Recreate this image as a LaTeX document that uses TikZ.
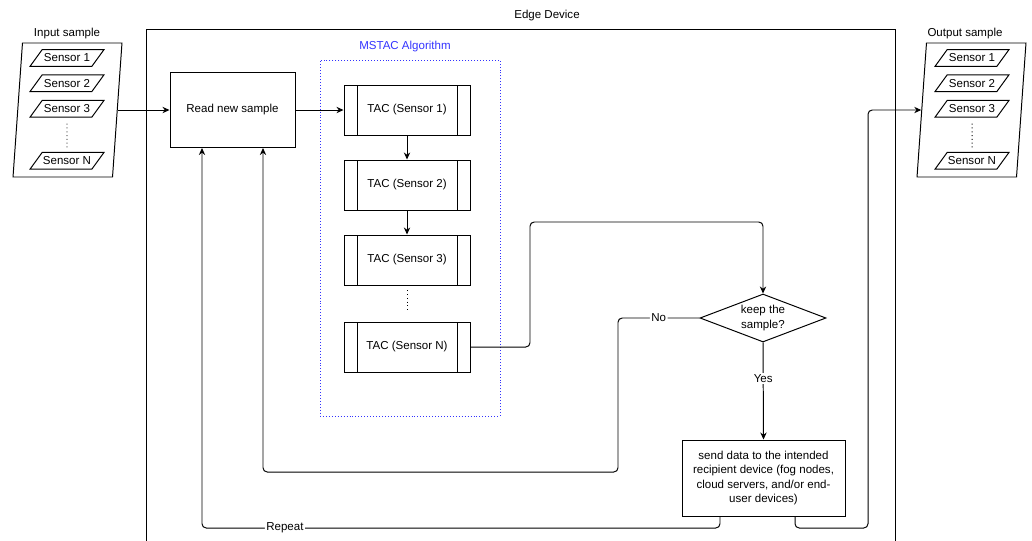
\documentclass[tikz,border=0pt]{standalone}
\usepackage{fontspec}
\setmainfont{Liberation Sans}
\usepackage{xcolor}
\usepackage{tikz}
\usetikzlibrary{arrows.meta, positioning, shapes.geometric}

\begin{document}
\begin{tikzpicture}[
        font=\fontsize{8.2}{10.4}\selectfont,
        line width=0.7pt,
        % Process boxes
        box/.style={draw, align=center, inner sep=2pt},
        % TAC boxes with side bars
        tacbox/.style={box, minimum width=3.15cm, minimum height=1.25cm,
                path picture={
                    \draw ([xshift=0.325cm]path picture bounding box.north west)
                        -- ([xshift=0.325cm]path picture bounding box.south west);
                    \draw ([xshift=-0.325cm]path picture bounding box.north east)
                        -- ([xshift=-0.325cm]path picture bounding box.south east);
                }},
        % Sample containers and sensor records
        sample/.style={draw, trapezium, trapezium left angle=84, trapezium right angle=96,
                trapezium stretches=true, minimum width=2.725cm, minimum height=3.35cm},
        sensor/.style={draw, trapezium, trapezium left angle=42, trapezium right angle=138,
                trapezium stretches body=true, minimum width=1.85cm, minimum height=0.42cm,
                inner xsep=0pt, inner ysep=1pt},
        % Decision
        decision/.style={draw, diamond, aspect=2.6, inner sep=0pt, align=center,
                minimum width=3.15cm, minimum height=1.2cm},
        % Connectors
        arr/.style={-{Stealth[length=5pt, width=4.5pt]}},
        lbl/.style={fill=white, inner sep=1pt},
        dots/.style={dash pattern=on 0.7pt off 2pt}
    ]

        \useasboundingbox (0,0) rectangle (25.8,-13.5);
        \clip (0,0) rectangle (25.8,-13.5);

        % Edge device frame
        \node[draw, minimum width=18.725cm, minimum height=13.275cm] (edge) at (13.0125,-7.3625) {};
        \node (edgelbl) at (13.675,-0.4) {Edge Device};

        % Input sample
        \node[sample] (in) at (1.6875,-2.75) {};
        \node (inlbl) at (1.675,-0.85) {Input sample};
        \node[sensor] (in1) at (1.675,-1.45) {Sensor 1};
        \node[sensor] (in2) at (1.675,-2.08) {Sensor 2};
        \node[sensor] (in3) at (1.675,-2.72) {Sensor 3};
        \node[sensor] (inN) at (1.675,-4.02) {Sensor N};
        \draw[dots, shorten <=0.15cm, shorten >=0.08cm] (in3.south) -- (inN.north);

        % Output sample
        \node[sample] (out) at (24.2875,-2.75) {};
        \node (outlbl) at (24.125,-0.85) {Output sample};
        \node[sensor] (out1) at (24.3,-1.45) {Sensor 1};
        \node[sensor] (out2) at (24.3,-2.08) {Sensor 2};
        \node[sensor] (out3) at (24.3,-2.72) {Sensor 3};
        \node[sensor] (outN) at (24.3,-4.02) {Sensor N};
        \draw[dots, shorten <=0.15cm, shorten >=0.08cm] (out3.south) -- (outN.north);

        % Read new sample
        \node[box, minimum width=3.125cm, minimum height=1.875cm] (read) at (5.8125,-2.75) {Read new sample};

        % MSTAC algorithm
        \node[draw={rgb,255:red,51;green,51;blue,255}, dash pattern=on 0.7pt off 1.4pt,
              minimum width=4.5cm, minimum height=8.9cm] (mstac) at (10.25,-5.95) {};
        \node[text={rgb,255:red,51;green,51;blue,255}] (mstaclbl) at (10.125,-1.175) {MSTAC Algorithm};

        \node[tacbox] (tac1) at (10.175,-2.75) {TAC (Sensor 1)};
        \node[tacbox] (tac2) at (10.175,-4.625) {TAC (Sensor 2)};
        \node[tacbox] (tac3) at (10.175,-6.5) {TAC (Sensor 3)};
        \node[tacbox] (tacN) at (10.175,-8.675) {TAC (Sensor N)};

        % Decision and sending
        \node[decision] (keep) at (19.075,-7.95) {keep the\\sample?};
        \node[box, minimum width=4.075cm, minimum height=1.9cm] (send) at (19.0875,-11.95)
            {send data to the intended\\recipient device (fog nodes,\\cloud servers, and/or end-\\user devices)};

        % Arrows
        \draw[arr] (in.east) -- (read.west);
        \draw[arr] (read.east) -- (tac1.west);
        \draw[arr] (tac1) -- (tac2);
        \draw[arr] (tac2) -- (tac3);
        \draw[dots, shorten <=0.12cm, shorten >=0.25cm] (tac3.south) -- (tacN.north);
        \draw[arr, rounded corners=3pt] (tacN.east) -| (13.25,-5.55) -| (keep.north);
        \draw[arr, rounded corners=3pt] (keep.west) -| node[lbl, pos=0.25] {No} (15.45,-11.8)
            -| ([xshift=0.7625cm]read.south);
        \draw[arr] (keep.south) -- node[lbl, pos=0.37] {Yes} (send.north);
        \draw[arr, rounded corners=3pt] ([xshift=-1.0875cm]send.south) |- node[lbl, pos=0.92] {Repeat} (5.05,-13.2)
            -- ([xshift=-0.7625cm]read.south);
        \draw[arr, rounded corners=3pt] ([xshift=0.7875cm]send.south) |- (21.7,-13.2) |- (out.west);

    \end{tikzpicture}
\end{document}
